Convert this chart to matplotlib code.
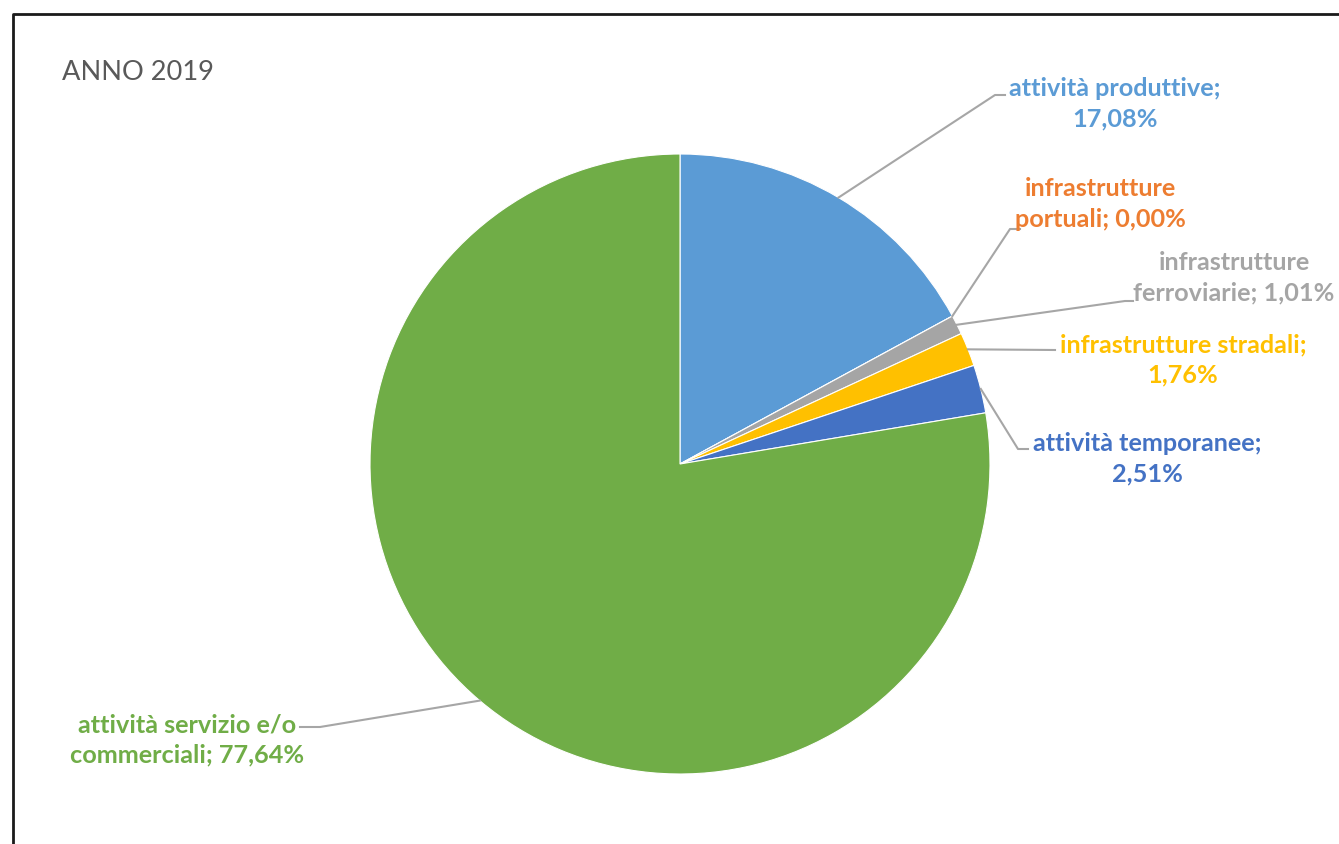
import matplotlib
matplotlib.use("Agg")
import matplotlib.pyplot as plt
import numpy as np

categories = ["attività produttive", "infrastrutture portuali", "infrastrutture ferroviarie",
              "infrastrutture stradali", "attività temporanee", "attività servizio e/o commerciali"]
values = [17.08, 0.00, 1.01, 1.76, 2.51, 77.64]
colors = ["#5B9BD5", "#ED7D31", "#A5A5A5", "#FFC000", "#4472C4", "#70AD47"]
title = "ANNO 2019"

W, H = 1339, 845
fig = plt.figure(figsize=(W / 100, H / 100), dpi=100)
ax = fig.add_axes([0, 0, 1, 1])
ax.set_xlim(0, W)
ax.set_ylim(0, H)
ax.set_aspect("equal")
ax.axis("off")

cx, cy, r = 680, H - 465, 310
ax.pie(values, colors=colors, startangle=90, counterclock=False, center=(cx, cy), radius=r,
       wedgeprops=dict(edgecolor="white", linewidth=0.8), frame=False)
ax.set_xlim(0, W)
ax.set_ylim(0, H)
ax.axis("off")

# frame
ax.plot([13, 13, W + 5], [-5, H - 15, H - 15], color="#1a1a1a", lw=2, solid_capstyle="butt")

fs = 18.2
font = "Lato"
label_text = [
    "attività produttive;\n{}%",
    "infrastrutture\nportuali; {}%",
    "infrastrutture\nferroviarie; {}%",
    "infrastrutture stradali;\n{}%",
    "attività temporanee;\n{}%",
    "attività servizio e/o\ncommerciali; {}%",
]
# label layout (pixel coords from top): text center, elbow point, end point
text_pos = [(1115, 104), (1100, 204), (1234, 278), (1183, 360), (1147, 459), (187, 740)]
elbow = [(995, 96), (1010, 230), (1125, 302), (1055, 351), (1018, 450), (320, 728)]
endp = [(1005, 96), (1020, 230), (1133, 302), (1055, 351), (1028, 450), (300, 728)]

ang = 90.0
for i, v in enumerate(values):
    span = v * 3.6
    mid = ang - span / 2
    ang -= span
    px = cx + r * np.cos(np.radians(mid))
    py = cy + r * np.sin(np.radians(mid))
    ex, ey = elbow[i]
    fx, fy = endp[i]
    ax.plot([px, ex, fx], [py, H - ey, H - fy], color="#A6A6A6", lw=1.5)
    pct = f"{v:.2f}".replace(".", ",")
    tx, ty = text_pos[i]
    ax.text(tx, H - ty, label_text[i].format(pct), color=colors[i], fontsize=fs,
            fontweight="bold", family=font, ha="center", va="center", multialignment="center",
            linespacing=1.4)

ax.text(62, H - 73, title, color="#595959", fontsize=19.6, family=font, ha="left", va="center")

fig.savefig("out.png", dpi=100)
